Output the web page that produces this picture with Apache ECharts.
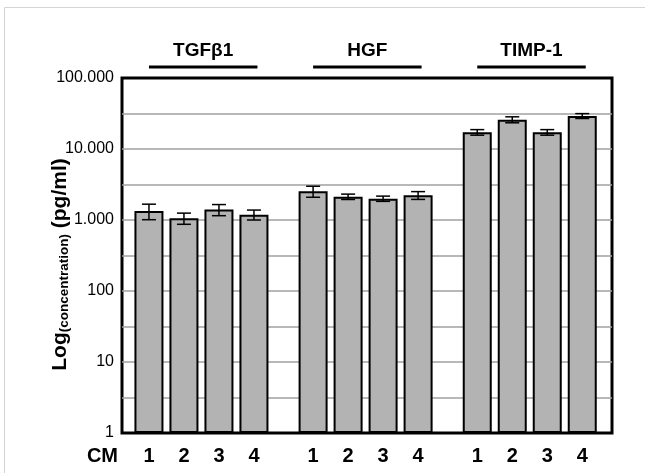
<!DOCTYPE html>
<html>
<head>
<meta charset="utf-8">
<script src="https://cdn.jsdelivr.net/npm/echarts@6/dist/echarts.min.js"></script>
<style>
  html, body { margin: 0; padding: 0; background: #fff; }
  #chart { width: 645px; height: 473px; }
</style>
</head>
<body>
<div id="chart"></div>
<script>
// data
const groups = ["TGFβ1", "HGF", "TIMP-1"];
const conditions = ["1", "2", "3", "4"];
const means = [
  [1340, 1060, 1400, 1190],
  [2540, 2130, 2000, 2230],
  [17200, 25900, 17200, 29200],
];
const errors = [
  [330, 190, 250, 190],
  [450, 185, 170, 280],
  [1550, 2500, 1550, 2300],
];
const yLabels = ["1", "10", "100", "1.000", "10.000", "100.000"];

// layout of the bars along the x axis (in bar units)
const firstBar = 0.77;
const groupStep = 4.69;
const yMin = 1;
const yMax = 100000;

const barData = [];
const errData = [];
const tickPos = [];
const tickText = {};
const groupData = [];
groups.forEach((g, gi) => {
  conditions.forEach((c, ci) => {
    const x = firstBar + gi * groupStep + ci;
    barData.push([x, means[gi][ci]]);
    errData.push([x, means[gi][ci] - errors[gi][ci], means[gi][ci] + errors[gi][ci]]);
    tickPos.push(x);
    tickText[x.toFixed(3)] = c;
  });
  const x0 = firstBar + gi * groupStep;
  groupData.push([x0, x0 + conditions.length - 1 + 0.1, yMax, gi]);
});

const font = "'Liberation Sans', Arial, sans-serif";

let option = {
  animation: false,
  graphic: [
    {
      type: "rect",
      shape: { x: 4.5, y: 7.5, width: 700, height: 500 },
      style: { fill: null, stroke: "#d4d4d4", lineWidth: 1 },
      silent: true,
    },
  ],
  grid: {
    left: 122,
    right: 33,
    top: 78,
    bottom: 40,
    show: true,
    borderColor: "#000",
    borderWidth: 3,
    backgroundColor: "#fff",
  },
  xAxis: {
    type: "value",
    min: 0,
    max: 14,
    name: "CM",
    nameLocation: "start",
    nameGap: 4,
    nameMoveOverlap: false,
    nameTextStyle: {
      fontFamily: font,
      fontSize: 20,
      fontWeight: "bold",
      color: "#000",
      align: "right",
      verticalAlign: "top",
      padding: [13, 0, 0, 0],
    },
    axisLine: { show: false },
    axisTick: { show: false },
    splitLine: { show: false },
    axisLabel: {
      customValues: tickPos,
      margin: 13,
      fontFamily: font,
      fontSize: 20,
      fontWeight: "bold",
      color: "#000",
      formatter: (v) => tickText[Number(v).toFixed(3)] || "",
    },
  },
  yAxis: {
    type: "log",
    logBase: 10,
    min: yMin,
    max: yMax,
    interval: 0.5,
    name: "{a|Log}{b|(concentration)}{a| (pg/ml)}",
    nameLocation: "middle",
    nameRotate: 90,
    nameGap: 51,
    nameMoveOverlap: false,
    nameTextStyle: {
      padding: [0, 18, 0, 0],
      rich: {
        a: { fontFamily: font, fontSize: 21, fontWeight: "bold", color: "#000" },
        b: {
          fontFamily: font,
          fontSize: 13.5,
          fontWeight: "bold",
          color: "#000",
          padding: [8, 0, 0, 0],
        },
      },
    },
    axisLine: { show: false },
    axisTick: { show: false },
    splitLine: {
      show: true,
      showMinLine: false,
      showMaxLine: false,
      lineStyle: { color: "#a0a0a0", width: 1.5 },
    },
    axisLabel: {
      margin: 8,
      fontFamily: font,
      fontSize: 16,
      color: "#000",
      formatter: (v) => {
        const l = Math.log10(v);
        const r = Math.round(l);
        return Math.abs(l - r) < 1e-6 ? yLabels[r] : "";
      },
    },
  },
  series: [
    {
      type: "bar",
      data: barData,
      barWidth: 29,
      itemStyle: { color: "#b3b3b3", borderColor: "#000", borderWidth: 2 },
      z: 2,
    },
    {
      type: "custom",
      data: errData,
      encode: { x: 0, y: [1, 2] },
      z: 3,
      renderItem: (params, api) => {
        const x = api.value(0);
        const lo = api.coord([x, api.value(1)]);
        const hi = api.coord([x, api.value(2)]);
        const cap = 7;
        const style = { stroke: "#000", lineWidth: 1.5 };
        return {
          type: "group",
          children: [
            { type: "line", shape: { x1: lo[0], y1: lo[1], x2: hi[0], y2: hi[1] }, style },
            { type: "line", shape: { x1: lo[0] - cap, y1: lo[1], x2: lo[0] + cap, y2: lo[1] }, style },
            { type: "line", shape: { x1: hi[0] - cap, y1: hi[1], x2: hi[0] + cap, y2: hi[1] }, style },
          ],
        };
      },
    },
    {
      type: "custom",
      data: groupData,
      encode: { x: [0, 1], y: 2 },
      clip: false,
      z: 3,
      renderItem: (params, api) => {
        const p0 = api.coord([api.value(0), api.value(2)]);
        const p1 = api.coord([api.value(1), api.value(2)]);
        return {
          type: "group",
          children: [
            {
              type: "line",
              shape: { x1: p0[0], y1: p0[1] - 11, x2: p1[0], y2: p0[1] - 11 },
              style: { stroke: "#000", lineWidth: 3 },
            },
            {
              type: "text",
              x: (p0[0] + p1[0]) / 2,
              y: p0[1] - 27,
              style: {
                text: groups[api.value(3)],
                fontFamily: font,
                fontSize: 19,
                fontWeight: "bold",
                fill: "#000",
                align: "center",
                verticalAlign: "middle",
              },
            },
          ],
        };
      },
    },
  ],
};

const chart = echarts.init(document.getElementById("chart"));
chart.setOption(option);
</script>
</body>
</html>
